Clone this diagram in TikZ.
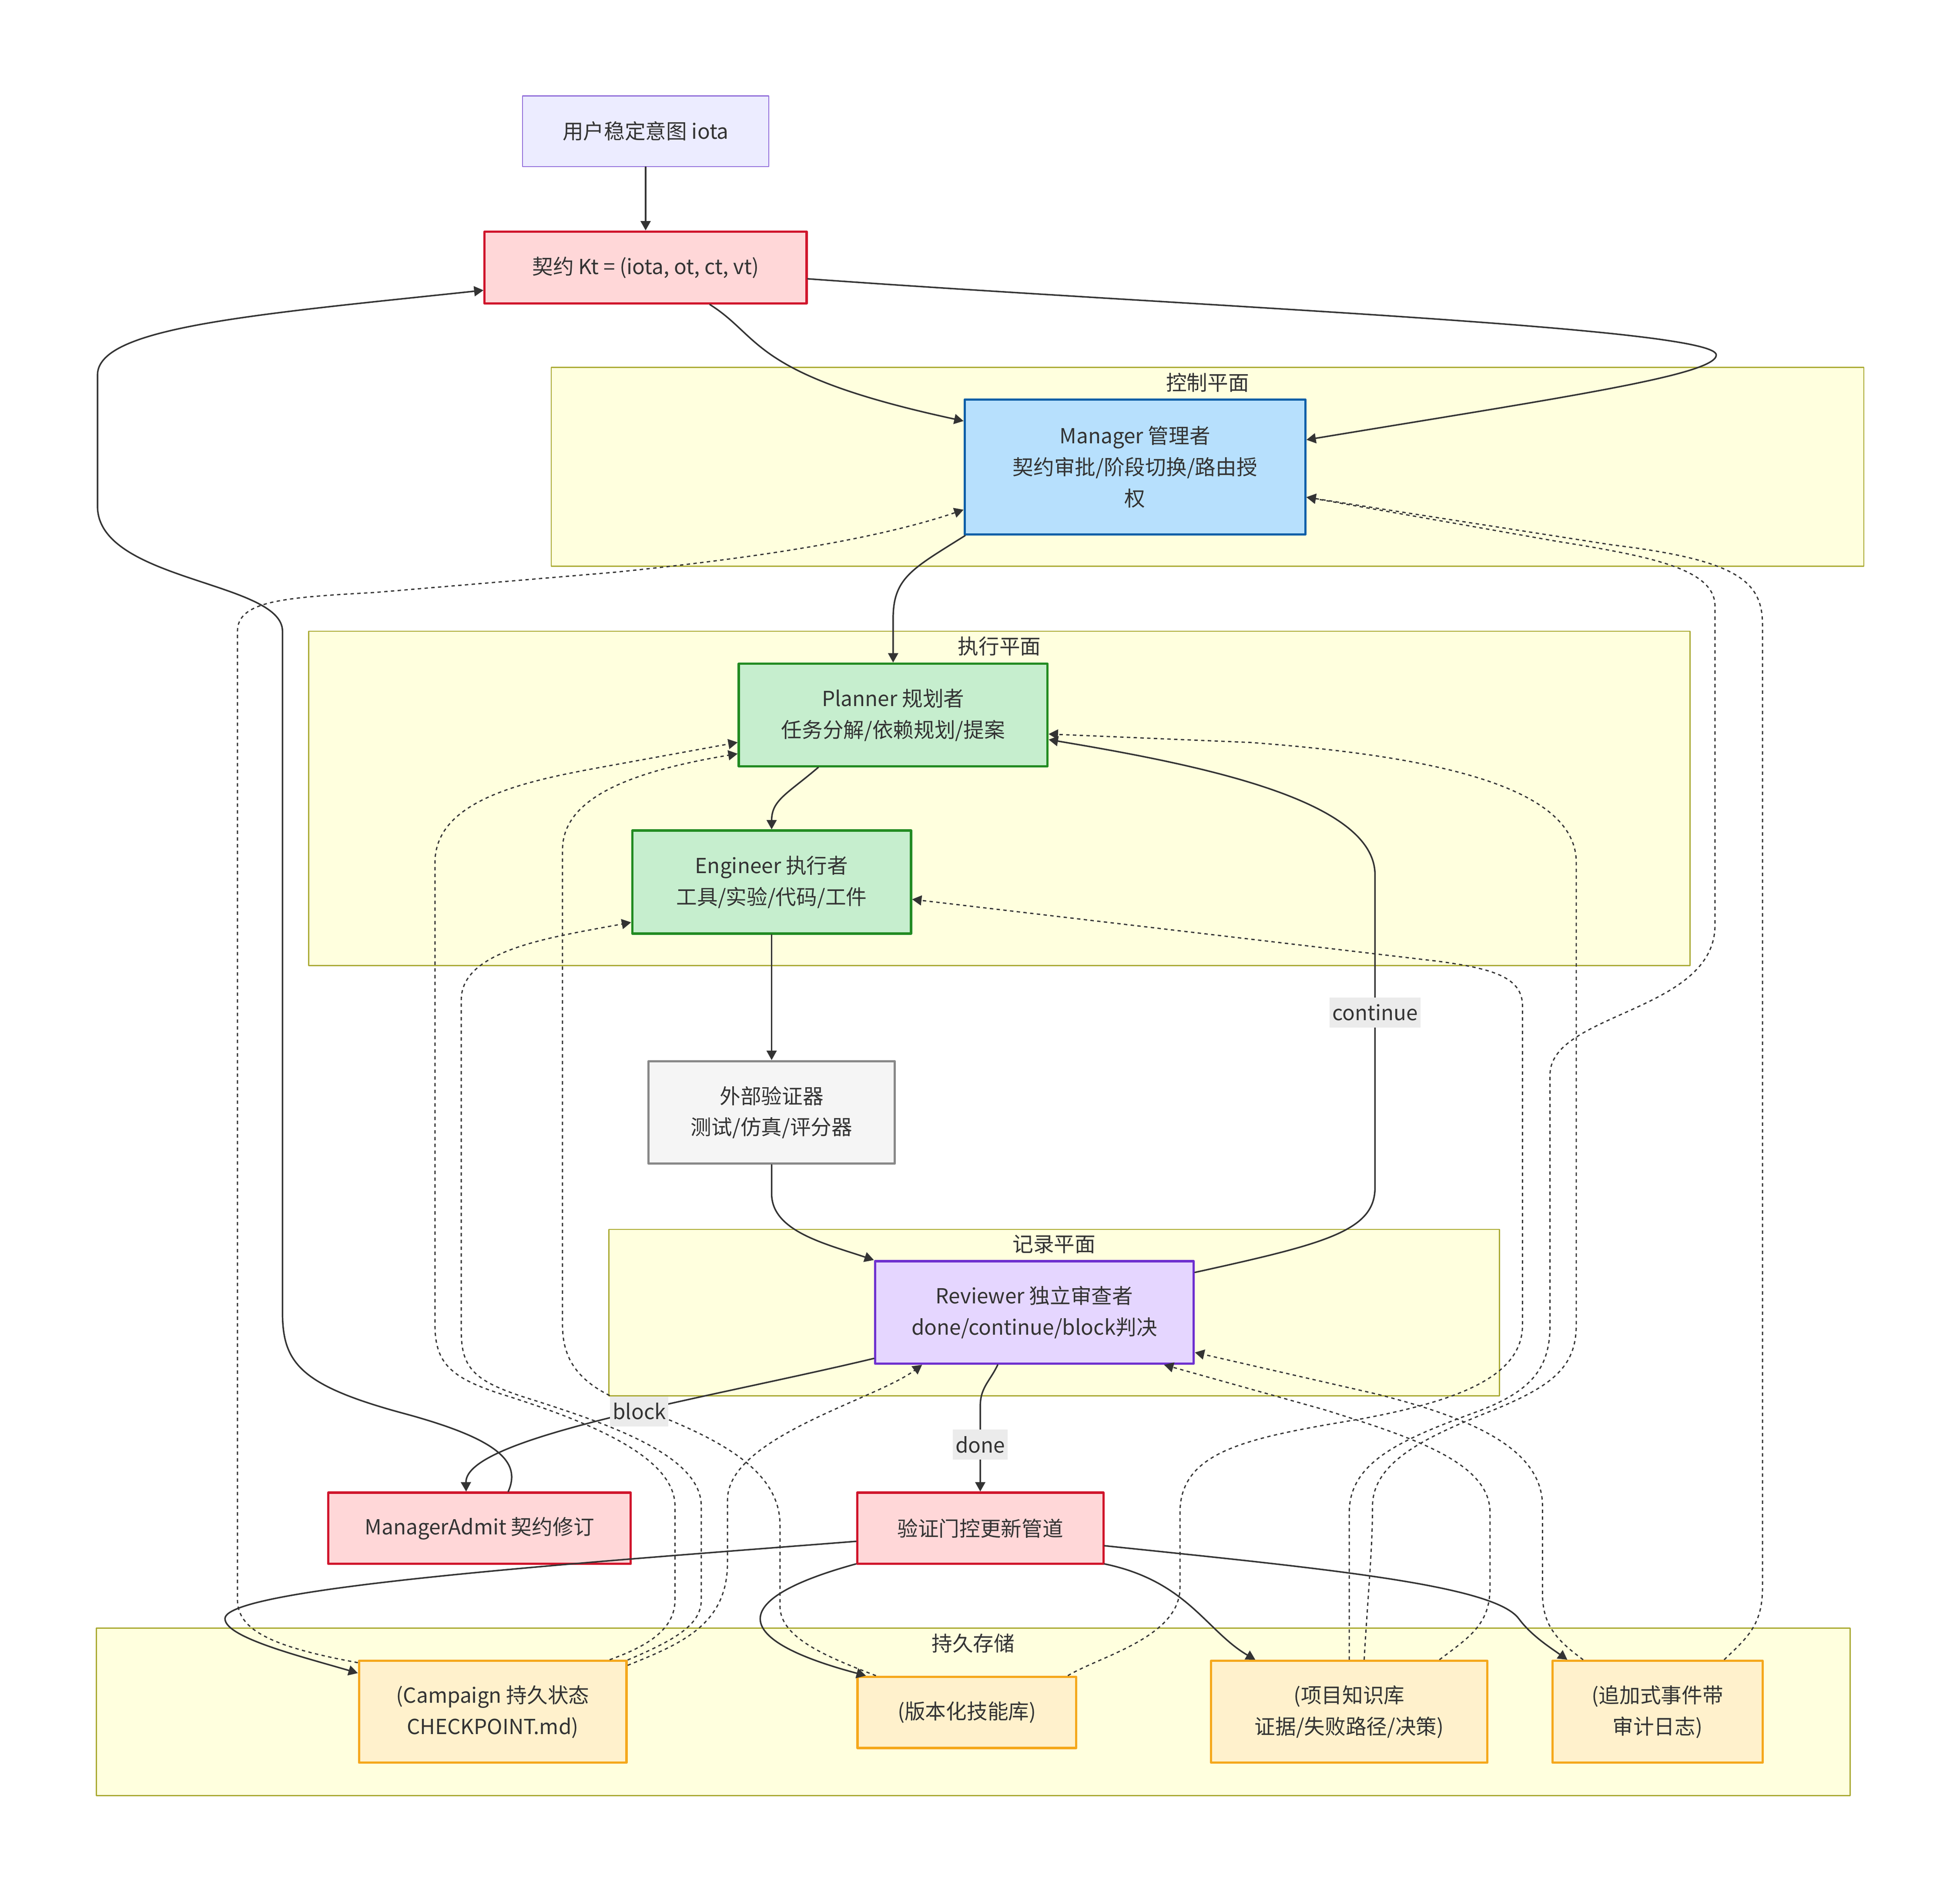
\documentclass[tikz,border=0pt]{standalone}
\usepackage{fontspec}
\setmainfont{Noto Sans CJK SC}
\usetikzlibrary{arrows.meta}
\definecolor{txt}{HTML}{333333}
\definecolor{clF}{HTML}{FFFFDE}
\definecolor{clD}{HTML}{AAAA33}
\definecolor{ioF}{HTML}{ECECFF}
\definecolor{ioD}{HTML}{9370DB}
\definecolor{ktF}{HTML}{FFD7D8}
\definecolor{ktD}{HTML}{D0142B}
\definecolor{mgF}{HTML}{B7E0FD}
\definecolor{mgD}{HTML}{0B5FA8}
\definecolor{agF}{HTML}{C6EECE}
\definecolor{agD}{HTML}{228B22}
\definecolor{exF}{HTML}{F5F5F5}
\definecolor{exD}{HTML}{888888}
\definecolor{rvF}{HTML}{E5D6FF}
\definecolor{rvD}{HTML}{6E30CF}
\definecolor{stF}{HTML}{FFF1CC}
\definecolor{stD}{HTML}{F5A81C}
\definecolor{lbF}{HTML}{EBEBEB}
\begin{document}
\begin{tikzpicture}[x=1pt,y=-1pt,>={Triangle[length=7.5pt,width=8pt]},line join=round,line cap=round,font=\fontsize{16.6}{25}\selectfont,text=txt,
	box/.style 2 args={draw,inner sep=0pt,align=center,minimum width=#1pt,minimum height=#2pt},
	cluster/.style={fill=clF,draw=clD,line width=.9pt},
	intent/.style={fill=ioF,draw=ioD,line width=.9pt},
	contract/.style={fill=ktF,draw=ktD,line width=1.8pt},
	manager/.style={fill=mgF,draw=mgD,line width=1.8pt},
	agent/.style={fill=agF,draw=agD,line width=1.8pt},
	verifier/.style={fill=exF,draw=exD,line width=1.8pt},
	review/.style={fill=rvF,draw=rvD,line width=1.8pt},
	store/.style={fill=stF,draw=stD,line width=1.8pt},
	flow/.style={draw=txt,line width=1.2pt,->},
	feed/.style={draw=txt,line width=1pt,line cap=butt,dash pattern=on 2.7pt off 2.7pt,->},
	lbl/.style={fill=lbF,inner xsep=2pt,inner ysep=0pt,minimum height=24pt}]
	\useasboundingbox (0,0) rectangle (1568,1513.7);
	\foreach \a/\b/\c/\d/\tx/\nm in {441/294/1491/453/控制平面/ctrl,247/505/1352/772.5/执行平面/exec,487/983.6/1199.6/1116.7/记录平面/rec,77/1302.6/1480/1436.5/持久存储/keep}
		{\draw[cluster] (\a,\b) rectangle (\c,\d); \node (\nm) at ({(\a+\c)/2},{\b+12}) {\tx};}
	\node[intent,box={197}{56.5}] (iota) at (516.5,105) {用户稳定意图 iota};
	\node[contract,box={257.6}{57.5}] (Kt) at (516.5,214) {契约 Kt = (iota, ot, ct, vt)};
	\node[manager,box={272.5}{108}] (Mgr) at (908,373.6) {Manager 管理者\\契约审批/阶段切换/路由授\\权};
	\node[agent,box={247}{82}] (Pln) at (714.5,572) {Planner 规划者\\任务分解/依赖规划/提案};
	\node[agent,box={223}{82.5}] (Eng) at (617.3,705.7) {Engineer 执行者\\工具/实验/代码/工件};
	\node[verifier,box={197}{82}] (Ver) at (617.3,890) {外部验证器\\测试/仿真/评分器};
	\node[review,box={255}{82}] (Rev) at (827.5,1050) {Reviewer 独立审查者\\done/continue/block判决};
	\node[contract,box={242}{57}] (Adm) at (383.6,1222.7) {ManagerAdmit 契约修订};
	\node[contract,box={197}{57}] (Gate) at (784.2,1222.7) {验证门控更新管道};
	\node[store,box={214}{81.5}] (Camp) at (394.2,1369.5) {(Campaign 持久状态\\CHECKPOINT.md)};
	\node[store,box={175}{57}] (Skill) at (773.5,1370) {(版本化技能库)};
	\node[store,box={221}{81.5}] (Know) at (1079.4,1369.5) {(项目知识库\\证据/失败路径/决策)};
	\node[store,box={168}{81.5}] (Log) at (1326,1369.5) {(追加式事件带\\审计日志)};
	\draw[feed] (Camp.160) .. controls (220,1318) and (190,1305) .. (190,1280) -- (190,505) .. controls (190,480) and (230,478) .. (300,474) -- (490,458) .. controls (600,447) and (700,432) .. (Mgr.194);
	\draw[feed] (Camp.24) .. controls (515,1318) and (540,1305) .. (540,1280) -- (540,1205) .. controls (540,1165) and (470,1137) .. (400,1115) .. controls (360,1102) and (348,1090) .. (348,1060) -- (348,690) .. controls (348,640) and (420,625) .. (480,614) -- (Pln.190);
	\draw[feed] (Camp.21) .. controls (540,1312) and (561,1300) .. (561,1280) -- (561,1205) .. controls (561,1165) and (490,1140) .. (420,1118) .. controls (380,1105) and (369,1095) .. (369,1065) -- (369,800) .. controls (369,760) and (440,750) .. (Eng.196);
	\draw[feed] (Camp.19) .. controls (545,1315) and (582,1300) .. (582,1250) -- (582,1200) .. controls (582,1150) and (700,1120) .. (Rev.205);
	\draw[feed] (Skill.158) .. controls (660,1325) and (624,1310) .. (624,1285) -- (624,1220) .. controls (624,1170) and (560,1145) .. (500,1122) .. controls (465,1108) and (450,1090) .. (450,1060) -- (450,680) .. controls (450,640) and (500,618) .. (Pln.194);
	\draw[feed] (Skill.20) .. controls (880,1325) and (944,1310) .. (944,1270) -- (944,1210) .. controls (944,1160) and (1000,1150) .. (1090,1135) .. controls (1170,1120) and (1218,1100) .. (1218,1060) -- (1218,805) .. controls (1218,782) and (1195,775) .. (1150,769) -- (Eng.353);
	\draw[feed] (Know.north) -- (1079.4,1210) .. controls (1079.4,1170) and (1120,1152) .. (1180,1130) .. controls (1225,1113.5) and (1240,1095) .. (1240,1060) -- (1240,860) .. controls (1240,810) and (1372,810) .. (1372,740) -- (1372,485) .. controls (1372,455) and (1320,445) .. (1245,433) -- (Mgr.350);
	\draw[feed] (Know.74) .. controls (1094,1280) and (1098,1240) .. (1098,1205) .. controls (1098,1170) and (1140,1150) .. (1190,1130) .. controls (1240,1110) and (1261,1095) .. (1261,1060) -- (1261,690) .. controls (1261,630) and (1150,605) .. (1000,594) -- (Pln.353);
	\draw[feed] (Know.30) .. controls (1175,1310) and (1192,1300) .. (1192,1270) -- (1192,1210) .. controls (1192,1170) and (1130,1150) .. (1060,1128) -- (Rev.338);
	\draw[feed] (Log.145) .. controls (1245,1312) and (1234,1300) .. (1234,1275) -- (1234,1205) .. controls (1234,1160) and (1180,1135) .. (1100,1115) -- (Rev.346);
	\draw[feed] (Log.38) .. controls (1398,1310) and (1410,1300) .. (1410,1270) -- (1410,500) .. controls (1410,465) and (1390,448) .. (1290,436) -- (Mgr.350);
	\draw[flow] (iota) -- (Kt);
	\draw[flow] (Kt.330) .. controls (610,270) and (600,300) .. (Mgr.165);
	\draw[flow] (Kt.356) .. controls (950,245) and (1373,262) .. (1373,284) .. controls (1373,300) and (1250,318) .. (Mgr.9);
	\draw[flow] (Mgr.202) .. controls (730,455) and (714.5,462) .. (714.5,495) -- (Pln.north);
	\draw[flow] (Pln.215) .. controls (630,635) and (617.3,640) .. (Eng.north);
	\draw[flow] (Eng) -- (Ver);
	\draw[flow] (Ver.south) -- (617.3,955) .. controls (617.3,985) and (660,995) .. (Rev.north west);
	\draw[flow] (Rev.14) .. controls (1060,995) and (1100,985) .. (1100,950) -- node[lbl,pos=.56] (cont) {continue} (1100,700) .. controls (1100,640) and (960,612) .. (Pln.351);
	\draw[flow] (Rev.196) .. controls (560,1120) and (372,1150) .. node[lbl,pos=.43] (blk) {block} (Adm.110);
	\draw[flow] (Rev.235) .. controls (792,1105) and (784.2,1110) .. (784.2,1125) -- node[lbl,pos=.45] (dn) {done} (Gate.north);
	\draw[flow] (Adm.52) .. controls (418,1168) and (395,1150) .. (320,1130) .. controls (240,1108) and (226,1090) .. (226,1050) -- (226,505) .. controls (226,465) and (78,465) .. (78,405) -- (78,300) .. controls (78,262) and (200,252) .. (Kt.188);
	\draw[flow] (Gate.186) .. controls (470,1250) and (180,1270) .. (180,1295) .. controls (180,1310) and (240,1325) .. (Camp.164);
	\draw[flow] (Gate.196.5) .. controls (580,1280) and (585,1312) .. (Skill.160);
	\draw[flow] (Gate.344) .. controls (950,1265) and (965,1305) .. (Know.151);
	\draw[flow] (Gate.352) .. controls (1060,1255) and (1195,1268) .. (1215,1295) .. controls (1225,1308.5) and (1240,1318) .. (Log.150);
\end{tikzpicture}
\end{document}
